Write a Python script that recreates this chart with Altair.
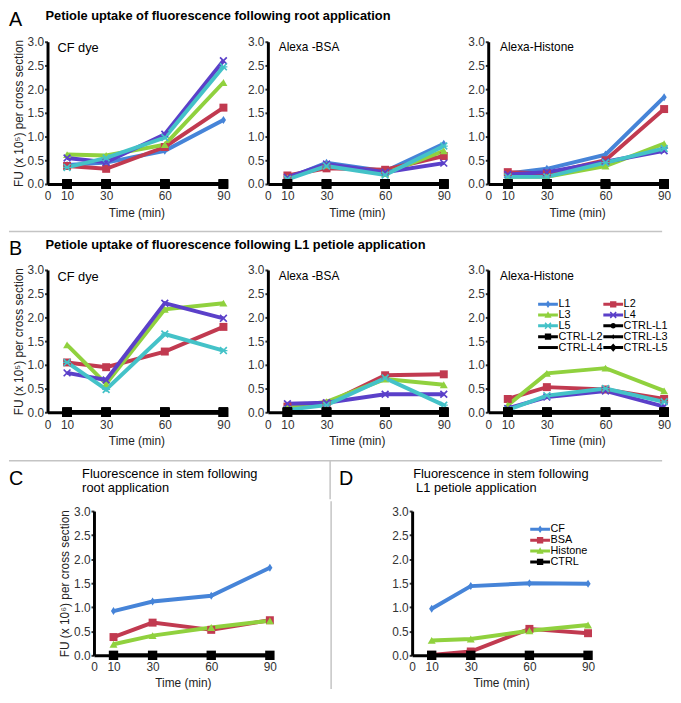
import altair as alt
import pandas as pd

FONT = "Liberation Sans"

# ---------------- data ----------------
times = [10, 30, 60, 90]
x_ticks = [0, 10, 30, 60, 90]
y_ticks = [0.0, 0.5, 1.0, 1.5, 2.0, 2.5, 3.0]

leaf_names = ["L1", "L2", "L3", "L4", "L5"]
ctrl_names = ["CTRL-L1", "CTRL-L2", "CTRL-L3", "CTRL-L4", "CTRL-L5"]
probe_names = ["CF", "BSA", "Histone"]
stem_ctrl_names = ["CTRL"]
ctrl_values = [0.0, 0.0, 0.0, 0.0]

leaf_colors = ["#4684d8", "#c13a50", "#90d13e", "#5b40c9", "#44c2c8"]
probe_colors = ["#4684d8", "#c13a50", "#90d13e"]

# A: petiole uptake following root application (x 10^5)
root_cf = {"L1": [0.40, 0.45, 0.70, 1.35], "L2": [0.38, 0.32, 0.78, 1.61],
           "L3": [0.62, 0.60, 0.83, 2.14], "L4": [0.55, 0.46, 1.05, 2.60],
           "L5": [0.35, 0.55, 0.98, 2.47]}
root_bsa = {"L1": [0.12, 0.45, 0.27, 0.85], "L2": [0.18, 0.33, 0.30, 0.59],
            "L3": [0.13, 0.40, 0.22, 0.70], "L4": [0.14, 0.42, 0.25, 0.44],
            "L5": [0.10, 0.38, 0.19, 0.80]}
root_histone = {"L1": [0.22, 0.32, 0.62, 1.83], "L2": [0.25, 0.22, 0.50, 1.58],
                "L3": [0.15, 0.15, 0.38, 0.85], "L4": [0.20, 0.25, 0.47, 0.70],
                "L5": [0.15, 0.15, 0.45, 0.75]}

# B: petiole uptake following L1 petiole application (x 10^5)
pet_cf = {"L2": [1.05, 0.95, 1.28, 1.80], "L3": [1.42, 0.60, 2.17, 2.30],
          "L4": [0.83, 0.68, 2.30, 1.98], "L5": [1.05, 0.48, 1.65, 1.30]}
pet_bsa = {"L2": [0.12, 0.18, 0.78, 0.80], "L3": [0.10, 0.22, 0.70, 0.58],
           "L4": [0.18, 0.20, 0.38, 0.38], "L5": [0.05, 0.15, 0.72, 0.15]}
pet_histone = {"L2": [0.28, 0.53, 0.48, 0.28], "L3": [0.15, 0.82, 0.93, 0.45],
               "L4": [0.08, 0.32, 0.45, 0.12], "L5": [0.05, 0.35, 0.50, 0.22]}

# C / D: fluorescence in stem (x 10^6)
stem_root = {"CF": [0.92, 1.12, 1.24, 1.82], "BSA": [0.38, 0.68, 0.53, 0.73],
             "Histone": [0.23, 0.41, 0.58, 0.72]}
stem_pet = {"CF": [0.97, 1.44, 1.50, 1.49], "BSA": [0.01, 0.08, 0.55, 0.46],
            "Histone": [0.31, 0.34, 0.51, 0.63]}

# ---------------- marker shapes ----------------
DIAMOND = "M0,-1L0.65,0L0,1L-0.65,0Z"
XSHAPE = ("M-1,-0.7L-0.7,-1L0,-0.3L0.7,-1L1,-0.7L0.3,0L1,0.7L0.7,1L0,0.3"
          "L-0.7,1L-1,0.7L-0.3,0Z")
ASTER = XSHAPE + "M-1,-0.15L1,-0.15L1,0.15L-1,0.15Z"
leaf_shapes = {"L1": DIAMOND, "L2": "square", "L3": "triangle-up", "L4": XSHAPE, "L5": ASTER}
probe_shapes = {"CF": DIAMOND, "BSA": "square", "Histone": "triangle-up"}

# legend symbols: a line segment with the marker on it
BAR = "M-2,-0.3L2,-0.3L2,0.3L-2,0.3Z"
LD = "M0,-0.76L0.52,0L0,0.76L-0.52,0Z"
LS = "M-0.64,-0.64L0.64,-0.64L0.64,0.64L-0.64,0.64Z"
LT = "M0,-0.76L0.72,0.56L-0.72,0.56Z"
LX = ("M-0.7,-0.49L-0.49,-0.7L0,-0.21L0.49,-0.7L0.7,-0.49L0.21,0"
      "L0.7,0.49L0.49,0.7L0,0.21L-0.49,0.7L-0.7,0.49L-0.21,0Z")
LC = "M0.56,0A0.56,0.56 0 1,1 -0.56,0A0.56,0.56 0 1,1 0.56,0Z"
LSD = "M0,-0.5L0.4,0L0,0.5L-0.4,0Z"
LBD = "M0,-0.84L0.72,0L0,0.84L-0.72,0Z"
leaf_legend_shapes = [BAR + LD, BAR + LS, BAR + LT, BAR + LX, BAR + LX,
                      BAR + LC, BAR + LS, BAR + LSD, BAR, BAR + LBD]
probe_legend_shapes = [BAR + LD, BAR + LS, BAR + LT, BAR + LS]

GRAY = "#c4c4c4"
TOP = 10  # space reserved above every plot


def long_table(series):
    return pd.DataFrame([{"series": s, "time": t, "value": v}
                         for s, vals in series.items() for t, v in zip(times, vals)])


def text_layer(text, x, y, size, weight="normal"):
    return alt.Chart(pd.DataFrame({"label": [text]})).mark_text(
        align="left", baseline="alphabetic", font=FONT, fontSize=size,
        fontWeight=weight, color="black").encode(
        x=alt.value(x), y=alt.value(y), text="label:N")


def rule_layer(x, x2, y, y2, opacity=1.0):
    return alt.Chart(pd.DataFrame({"k": [0]})).mark_rule(
        color=GRAY, strokeWidth=1.5, opacity=opacity).encode(
        x=alt.value(x), x2=alt.value(x2), y=alt.value(y), y2=alt.value(y2))


def panel(series, color_map, shape_map, ctrls, label, label_xy, label_size,
          height, y_title=None, extras=(), legend=None, lp=7, tp=6, below=39, left=None):
    names = list(series.keys())
    df = long_table(series)
    cdf = long_table({c: ctrl_values for c in ctrls})
    x = alt.X("time:Q", scale=alt.Scale(domain=[0, 91], nice=False, zero=False),
              axis=alt.Axis(values=x_ticks, title="Time (min)", ticks=False,
                            labelPadding=lp, titlePadding=tp, labelFlush=False,
                            labelOverlap=False))
    y = alt.Y("value:Q", scale=alt.Scale(domain=[0, 3], nice=False),
              axis=alt.Axis(values=y_ticks, format=".1f", title=y_title, tickSize=3,
                            tickWidth=2, labelPadding=1, titlePadding=2,
                            labelFlush=False, labelOverlap=False))
    color = alt.Color("series:N", scale=alt.Scale(domain=names,
                      range=[color_map[n] for n in names]), legend=None)
    shape = alt.Shape("series:N", scale=alt.Scale(domain=names,
                      range=[shape_map[n] for n in names]), legend=None)
    lines = alt.Chart(df).mark_line(strokeWidth=4).encode(x=x, y=y, color=color)
    pts = alt.Chart(df).mark_point(filled=True, opacity=1, size=65).encode(
        x=x, y=y, color=color, shape=shape)
    clines = alt.Chart(cdf).mark_line(strokeWidth=4, color="black").encode(
        x=x, y=y, detail="series:N")
    cpts = alt.Chart(cdf).mark_point(filled=True, opacity=1, size=90, shape="square",
                                     color="black").encode(x=x, y=y)
    # invisible guides that fix the space kept around the plot
    layers = [rule_layer(0, 0, -TOP, height + below, opacity=0)]
    if left is not None:
        layers.append(rule_layer(-left, 0, height / 2, height / 2, opacity=0))
    layers += [lines, pts, clines, cpts]
    if label:
        layers.append(text_layer(label, label_xy[0], label_xy[1], label_size))
    layers += list(extras)
    if legend is not None:
        layers.append(legend)
    return alt.layer(*layers).resolve_scale(
        color="independent", shape="independent").properties(width=180, height=height)


def legend_layer(names, colors, shapes, lx, ly, columns, row_pad):
    leg = alt.Legend(orient="none", legendX=lx, legendY=ly, columns=columns,
                     direction="horizontal", title=None,
                     symbolSize=100, symbolStrokeWidth=0, labelFont=FONT,
                     labelFontSize=11, labelColor="black", labelOffset=5,
                     rowPadding=row_pad, columnPadding=0, padding=0)
    df = pd.DataFrame({"series": names, "time": [0] * len(names), "value": [0] * len(names)})
    return alt.Chart(df).transform_filter("false").mark_point(filled=True, opacity=1).encode(
        color=alt.Color("series:N", scale=alt.Scale(domain=names, range=colors), legend=leg),
        shape=alt.Shape("series:N", scale=alt.Scale(domain=names, range=shapes), legend=leg))


leaf_color_map = dict(zip(leaf_names, leaf_colors))
probe_color_map = dict(zip(probe_names, probe_colors))
YT5 = "FU (x 10\u2075) per cross section"
YT6 = "FU (x 10\u2076) per cross section"

A1 = panel(root_cf, leaf_color_map, leaf_shapes, ctrl_names, "CF dye", (10, 10), 13, 144, YT5, left=39)
A2 = panel(root_bsa, leaf_color_map, leaf_shapes, ctrl_names, "Alexa -BSA", (11, 9), 12, 144)
A3 = panel(root_histone, leaf_color_map, leaf_shapes, ctrl_names, "Alexa-Histone", (12, 9), 12, 144)

B1 = panel(pet_cf, leaf_color_map, leaf_shapes, ctrl_names, "CF dye", (10, 11), 13, 144, YT5, left=39)
B2 = panel(pet_bsa, leaf_color_map, leaf_shapes, ctrl_names, "Alexa -BSA", (11, 10), 12, 144)
B3 = panel(pet_histone, leaf_color_map, leaf_shapes, ctrl_names, "Alexa-Histone", (12, 10), 12, 144,
           legend=legend_layer(leaf_names + ctrl_names, leaf_colors + ["black"] * 5,
                               leaf_legend_shapes, 55, 29, 2, -3))

C = panel(stem_root, probe_color_map, probe_shapes, stem_ctrl_names, "", (0, 0), 12, 146, YT6,
          extras=[rule_layer(240, 240, -TOP, 180)], lp=6, tp=6, below=37, left=38)
D = panel(stem_pet, probe_color_map, probe_shapes, stem_ctrl_names, "", (0, 0), 12, 146,
          extras=[rule_layer(-75, -75, 0, 146, opacity=0)],
          legend=legend_layer(probe_names + stem_ctrl_names, probe_colors + ["black"],
                              probe_legend_shapes, 124, 13, 1, -1), lp=6, tp=6, below=37)

HW = 622  # header width


def header(height, layers):
    return alt.layer(*layers).properties(width=HW, height=height)


headA = header(23, [text_layer("A", -39, 17, 20),
                    text_layer("Petiole uptake of fluorescence following root application",
                               -2, 11, 13, "bold")])
headB = header(38, [rule_layer(-39, HW, 9, 9),
                    text_layer("B", -39, 33, 20),
                    text_layer("Petiole uptake of fluorescence following L1 petiole application",
                               -2, 27, 13, "bold")])
headCD = header(49, [rule_layer(-39, HW, 10, 10),
                     rule_layer(286, 286, 10, 49),
                     text_layer("C", -39, 35, 20),
                     text_layer("Fluorescence in stem following", 35, 28, 13),
                     text_layer("root application", 35, 42, 13),
                     text_layer("D", 295, 35, 20),
                     text_layer("Fluorescence in stem following", 370, 28, 13),
                     text_layer("L1 petiole application", 373, 42, 13)])

spacer = alt.Chart(pd.DataFrame({"k": [0]})).mark_point(opacity=0).encode(
    x=alt.value(0), y=alt.value(0)).properties(width=1, height=10)

rowA = alt.hconcat(A1, A2, A3, spacing=15).resolve_scale(color="independent", shape="independent")
rowB = alt.hconcat(B1, B2, B3, spacing=15).resolve_scale(color="independent", shape="independent")
rowCD = alt.hconcat(spacer, C, D, spacing=6).resolve_scale(color="independent", shape="independent")

chart = alt.vconcat(headA, rowA, headB, rowB, headCD, rowCD, spacing=0).resolve_scale(
    color="independent", shape="independent").properties(
    padding={"left": 0, "top": -3, "right": 0, "bottom": -3}).configure_view(
    strokeWidth=0).configure_axis(
    labelFont=FONT, titleFont=FONT, labelFontSize=12, titleFontSize=12,
    labelColor="#333333", titleColor="#222222", titleFontWeight="normal",
    domainColor="black", domainWidth=3, tickColor="#333333", grid=False)

chart.save("out.html", embed_options={"renderer": "svg", "actions": False})
